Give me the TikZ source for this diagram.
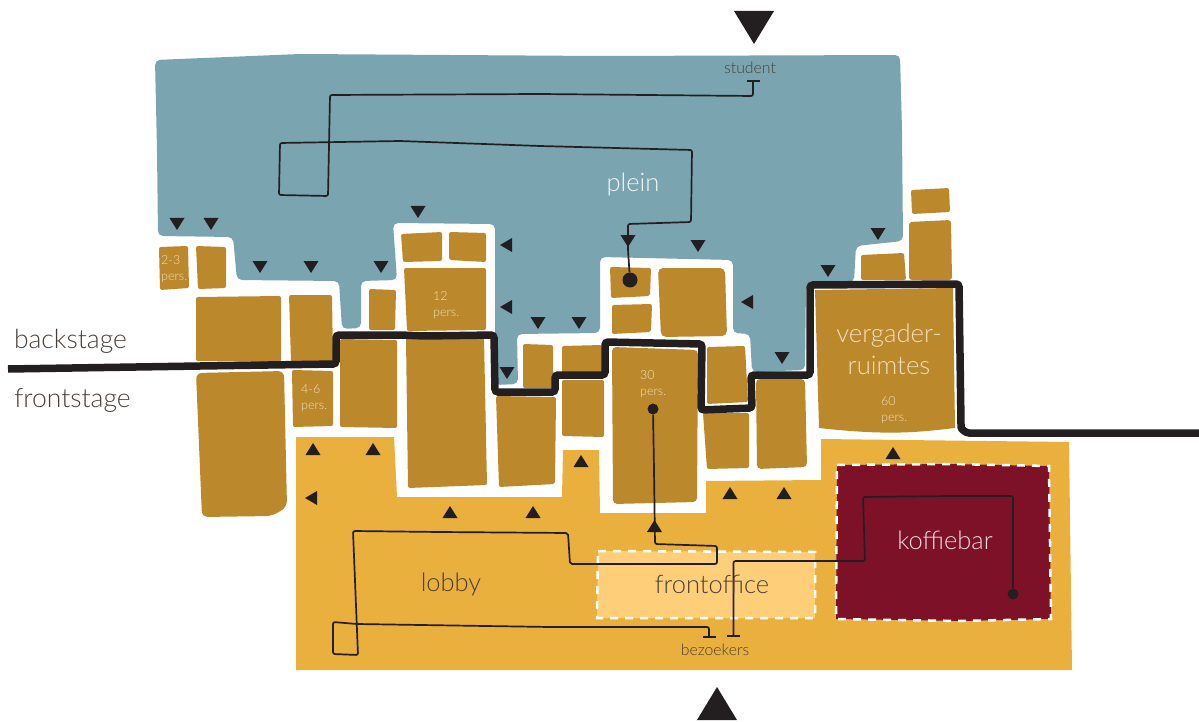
\documentclass[tikz,border=0pt]{standalone}
\usepackage{fontspec}
\setmainfont{Lato Light}
\usetikzlibrary{arrows.meta,shapes.geometric}
\definecolor{pleinblue}{HTML}{7BA4B1}
\definecolor{roombrown}{HTML}{BC882C}
\definecolor{lobbyyellow}{HTML}{E9B03D}
\definecolor{officeyellow}{HTML}{FFCE79}
\definecolor{barred}{HTML}{7D1128}
\definecolor{inkblack}{HTML}{231F20}
\definecolor{inkgrey}{HTML}{4A4037}
\definecolor{roomtext}{HTML}{EFDFBC}
\begin{document}
\begin{tikzpicture}[
    x=1pt,y=-1pt,
    every node/.style={inner sep=0pt, align=center},
    room/.style={fill=roombrown, rounded corners=2pt},
    zone/.style={rounded corners=5pt},
    dashbox/.style={draw=white, line width=2.5pt, dash pattern=on 8pt off 7pt},
    route/.style={draw=inkblack, line width=1.7pt, rounded corners=2pt},
    border/.style={draw=inkblack, line width=7.5pt, rounded corners=3pt},
    big/.style={font=\fontsize{25.5}{25.5}\selectfont},
    stage/.style={font=\fontsize{26.5}{26.5}\selectfont, text=inkgrey},
    small/.style={font=\fontsize{12.5}{16}\selectfont, text=roomtext, align=left, anchor=west},
    tiny/.style={font=\fontsize{15.8}{15.8}\selectfont, text=inkgrey},
    dot/.style={circle, fill=inkblack, minimum size=#1}
]
    \useasboundingbox (0,0) rectangle (1199,722);

    % zones
    \fill[pleinblue, zone] (155,60) -- (300,54) -- (600,56) -- (900,55) -- (902,130) -- (903,241)
        -- (856,246) -- (854,282) -- (806,285) -- (805,370) -- (752,372) -- (750,334) -- (733,333)
        -- (733,260) -- (600,257) -- (600,333) -- (517,334) -- (518,384) -- (495,385) -- (495,224)
        -- (393,223) -- (397,280) -- (361,281) -- (361,328) -- (342,329) -- (339,281) -- (237,280)
        -- (233,237) -- (158,236) -- (157,150) -- cycle;
    \fill[lobbyyellow] (296,437) -- (394,437) -- (397,497) -- (562,497) -- (563,450) -- (599,450)
        -- (600,513) -- (706,513) -- (706,481) -- (821,480) -- (821,439) -- (1069,442) -- (1072,670)
        -- (296,670) -- cycle;
    \fill[officeyellow] (598,551) -- (815,552) -- (815,618) -- (597,618) -- cycle;
    \draw[dashbox] (598,551) -- (815,552) -- (815,618) -- (597,618) -- cycle;
    \fill[barred] (837,465) -- (950,464) -- (1049,466) -- (1051,619) -- (960,621) -- (836,619) -- cycle;
    \draw[dashbox] (837,465) -- (950,464) -- (1049,466) -- (1051,619) -- (960,621) -- (836,619) -- cycle;

    % rooms
    \fill[room] (159,247) -- (188,246) -- (189,288) -- (160,290) -- cycle;
    \fill[room] (196,246) -- (226,247) -- (226,288) -- (198,289) -- cycle;
    \fill[room] (196,297) -- (281,296) -- (281,362) -- (196,361) -- cycle;
    \fill[room] (289,295) -- (332,295) -- (333,362) -- (291,362) -- cycle;
    \fill[room, rounded corners=6pt] (196,373) -- (284,371) -- (287,507) -- (272,516) -- (202,517) -- cycle;
    \fill[room] (292,370) -- (333,371) -- (333,426) -- (293,427) -- cycle;
    \fill[room] (340,339) -- (397,340) -- (397,428) -- (340,427) -- cycle;
    \fill[room] (369,289) -- (396,290) -- (395,330) -- (369,330) -- cycle;
    \fill[room] (401,234) -- (442,232) -- (442,261) -- (403,262) -- cycle;
    \fill[room] (449,232) -- (486,233) -- (486,262) -- (449,260) -- cycle;
    \fill[room] (404,268) -- (486,268) -- (486,330) -- (407,331) -- cycle;
    \fill[room] (406,338) -- (484,338) -- (487,485) -- (408,488) -- cycle;
    \fill[room] (496,396) -- (556,397) -- (555,484) -- (499,487) -- cycle;
    \fill[room] (523,344) -- (553,345) -- (553,388) -- (523,388) -- cycle;
    \fill[room] (562,346) -- (602,345) -- (602,373) -- (562,373) -- cycle;
    \fill[room] (562,380) -- (604,380) -- (604,437) -- (562,436) -- cycle;
    \fill[room, rounded corners=4pt] (612,347) -- (698,350) -- (697,502) -- (613,504) -- cycle;
    \fill[room] (610,267) -- (651,268) -- (650,296) -- (611,298) -- cycle;
    \fill[room] (612,305) -- (652,304) -- (651,332) -- (612,334) -- cycle;
    \fill[room, rounded corners=5pt] (658,268) -- (725,268) -- (727,336) -- (661,337) -- cycle;
    \fill[room] (707,347) -- (745,346) -- (748,402) -- (707,404) -- cycle;
    \fill[room] (703,413) -- (749,413) -- (749,468) -- (707,469) -- cycle;
    \fill[room, rounded corners=4pt] (756,379) -- (805,379) -- (807,467) -- (757,469) -- cycle;
    \fill[roombrown] (815,290) -- (953,288) -- (955,428) .. controls (920,432) and (890,436) .. (819,428) -- cycle;
    \fill[room] (861,255) -- (904,253) -- (906,280) -- (861,280) -- cycle;
    \fill[room, rounded corners=3pt] (909,222) -- (951,220) -- (952,280) -- (909,280) -- cycle;
    \fill[room] (911,190) -- (949,188) -- (950,212) -- (912,214) -- cycle;

    % backstage border
    \draw[border] (8,369) -- (200,366) -- (336,364) -- (336,335) -- (400,335) -- (425,336) -- (494,335) -- (495,392)
        -- (555,392) -- (555,375) -- (605,375) -- (605,342) -- (702,344) -- (701,410) -- (752,408)
        -- (751,375) -- (810,375) -- (810,285) -- (959,284) -- (961,424) to[out=-90,in=180] (972,433) -- (1199,433);

    % triangles
    \foreach \x/\y in {177/224,211/224,260/267,311/267,381/267,418/212,507/373,538/323,579/323,698/246,782/358,828/271,878/234} {
        \fill[inkblack] (\x-7.5,\y-6) -- (\x+7.5,\y-6) -- (\x,\y+6) -- cycle;
    }
    \foreach \x/\y in {313/449,373/449,450/512,533/512,581/461,730/493,784/493,893/453} {
        \fill[inkblack] (\x-7.5,\y+6) -- (\x+7.5,\y+6) -- (\x,\y-6) -- cycle;
    }
    \foreach \x/\y in {506/245,506/307,747/302,311/498} {
        \fill[inkblack] (\x+6,\y-7) -- (\x+6,\y+7) -- (\x-6,\y) -- cycle;
    }
    \fill[inkblack] (734,11) -- (774,11) -- (754,44) -- cycle;
    \fill[inkblack] (697,720) -- (737,720) -- (717,687) -- cycle;

    % routes
    \coordinate (studentstop) at (753,80);
    \coordinate (visitorleft) at (709,638);
    \coordinate (visitorright) at (733.5,637);
    \node[dot=15pt] (pleindot) at (630,280) {};
    \node[dot=11pt] (zaaldot) at (653,409) {};
    \node[dot=11pt] (bardot) at (1013,594) {};

    \draw[route, {Bar[width=13pt]}-] (studentstop) -- (753,96) -- (540,94) -- (330,95) -- (328,196) -- (279,195) -- (280,143)
        -- (400,141) -- (540,146) -- (692,150) -- (691,222) -- (628,224) -- (628,250) -- (pleindot);
    \fill[inkblack] (620.5,235) -- (635.5,235) -- (628,247) -- cycle;

    \draw[route, {Bar[width=13pt]}-] (visitorleft) -- (709,627) -- (550,627) -- (357,624) -- (333,622) -- (333,654) -- (358,655)
        -- (353,531) -- (440,532) -- (568,533) -- (570,564) -- (717,564) -- (717,546) -- (655,544) -- (654,470) -- (zaaldot);
    \fill[inkblack] (647,532) -- (662,532) -- (654.5,520) -- cycle;

    \draw[route, {Bar[width=13pt]}-] (visitorright) -- (733.5,561) -- (865,561) -- (863,497) -- (950,496) -- (1013,496) -- (bardot);

    % labels
    \node[tiny] (student) at (750,68) {student};
    \node[tiny] (bezoekers) at (715,650) {bezoekers};
    \node[big, text=white!90!pleinblue] (plein) at (633,184) {plein};
    \node[stage] (backstage) at (70.5,341) {backstage};
    \node[stage] (frontstage) at (72.5,400) {frontstage};
    \node[big, text=inkgrey] (lobby) at (451,584) {lobby};
    \node[big, text=inkgrey] (frontoffice) at (712,584) {frontoffice};
    \node[big, text=white!85!barred] (koffiebar) at (945,540.5) {koffiebar};
    \node[font=\fontsize{25.7}{32}\selectfont, text=roomtext] (vergader) at (889,349) {vergader-\\ruimtes};
    \node[small] (zaal60) at (881,410) {60\\pers.};
    \node[small] (zaal30) at (640,384) {30\\pers.};
    \node[small] (zaal12) at (433,305) {12\\pers.};
    \node[small] (zaal46) at (301,398) {4-6\\pers.};
    \node[small] (zaal23) at (161,269) {2-3\\pers.};
\end{tikzpicture}
\end{document}
